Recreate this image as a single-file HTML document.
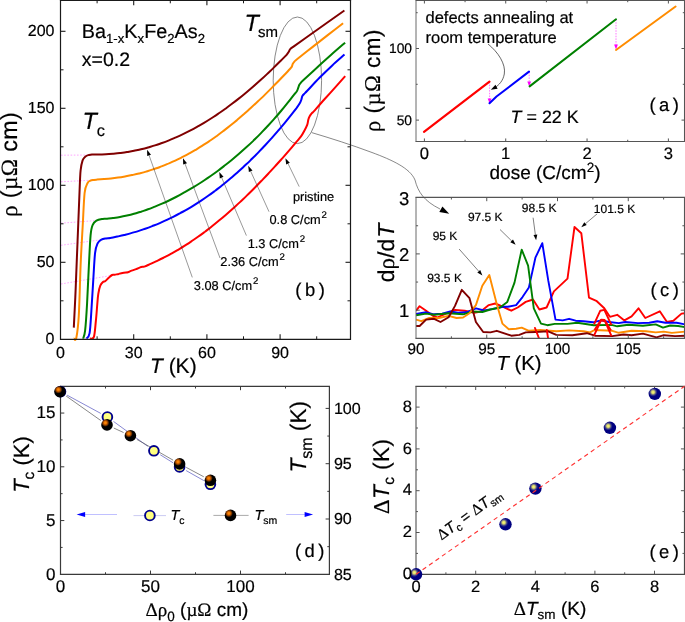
<!DOCTYPE html>
<html lang="en">
<head>
<meta charset="utf-8">
<title>Figure</title>
<style>
html,body{margin:0;padding:0;background:#fff;}
body{width:685px;height:622px;overflow:hidden;}
svg{display:block;font-family:'Liberation Sans', sans-serif;}
svg text{font-family:"Liberation Sans",sans-serif;stroke:#000;stroke-width:0.2px;text-rendering:geometricPrecision;}
.gk{font-family:"Liberation Serif",serif;}
</style>
</head>
<body>
<svg width="685" height="622" viewBox="0 0 685 622">
<rect x="0" y="0" width="685" height="622" fill="#ffffff"/>
<g id="panel-b">
<line x1="61.00" y1="155.20" x2="92.00" y2="155.00" stroke="#ff80ff" stroke-width="0.7" stroke-dasharray="1.6 1.6"/>
<line x1="61.00" y1="181.80" x2="95.00" y2="180.00" stroke="#ff80ff" stroke-width="0.7" stroke-dasharray="1.6 1.6"/>
<line x1="61.00" y1="223.20" x2="98.00" y2="220.40" stroke="#ff80ff" stroke-width="0.7" stroke-dasharray="1.6 1.6"/>
<line x1="61.00" y1="245.30" x2="102.00" y2="239.60" stroke="#ff80ff" stroke-width="0.7" stroke-dasharray="1.6 1.6"/>
<line x1="61.00" y1="284.00" x2="113.00" y2="275.20" stroke="#ff80ff" stroke-width="0.7" stroke-dasharray="1.6 1.6"/>
<ellipse cx="297.4" cy="80.3" rx="24.2" ry="63.3" fill="none" stroke="#555" stroke-width="0.7"/>
<path d="M311.7,132.6 C330,138 352,145 372,152.5 C392,160 410,168 415,180 C418,192 424,201 440,209" fill="none" stroke="#555" stroke-width="0.7"/>
<polygon points="449.2,213.8 439.3,212.1 442.4,206.5" fill="#000"/>
<path d="M90.1,338.6C90.7,338.3 92.9,339.9 93.9,336.9C94.9,333.9 95.3,326.1 95.9,320.6C96.5,315.1 96.9,308.5 97.3,304.0C97.7,299.5 97.8,296.9 98.3,293.8C98.8,290.8 99.5,287.6 100.3,285.7C101.1,283.8 102.1,282.9 102.9,282.1C103.8,281.3 104.5,281.7 105.4,281.0C106.3,280.3 107.4,279.0 108.5,278.0C109.6,277.0 111.1,275.5 112.1,275.0C113.1,274.5 113.5,275.0 114.6,274.8C115.7,274.6 117.2,274.2 118.7,273.9C120.2,273.5 122.3,273.0 123.8,272.7C125.3,272.4 126.7,272.5 127.9,272.2C129.1,271.9 129.6,271.4 131.0,270.9C132.4,270.4 134.4,269.8 136.1,269.1C137.8,268.5 139.8,267.4 141.2,267.0C142.6,266.6 142.9,267.0 144.3,266.6C145.7,266.2 147.5,265.3 149.4,264.4C151.3,263.5 153.7,262.5 156.0,261.4C158.3,260.3 160.7,259.2 163.0,258.0C165.3,256.8 167.7,255.7 170.0,254.4C172.3,253.1 174.7,251.8 177.0,250.4C179.3,249.0 181.7,247.7 184.0,246.2C186.3,244.7 188.7,243.2 191.0,241.6C193.3,240.0 195.7,238.5 198.0,236.8C200.3,235.2 202.7,233.4 205.0,231.7C207.3,229.9 209.7,228.2 212.0,226.3C214.3,224.5 216.7,222.5 219.0,220.6C221.3,218.7 223.7,216.7 226.0,214.7C228.3,212.7 230.7,210.6 233.0,208.5C235.3,206.4 237.7,204.3 240.0,202.1C242.3,199.9 244.7,197.7 247.0,195.4C249.3,193.1 251.7,190.8 254.0,188.5C256.3,186.2 258.7,183.7 261.0,181.3C263.3,178.9 265.7,176.5 268.0,174.0C270.3,171.5 272.7,169.0 275.0,166.4C277.3,163.8 279.7,161.2 282.0,158.6C284.3,156.0 286.7,153.3 289.0,150.6C291.3,147.9 294.0,144.8 296.0,142.4C298.0,140.0 299.6,138.3 301.0,136.4C302.4,134.5 303.2,132.9 304.2,131.0C305.2,129.1 306.5,126.7 307.2,124.8C307.9,122.9 307.9,121.2 308.3,119.7C308.7,118.2 309.2,117.2 309.8,116.1C310.4,115.0 311.1,114.1 311.9,113.2C312.7,112.3 312.4,113.0 314.5,110.6C316.6,108.2 321.3,102.8 324.7,99.0C328.1,95.2 331.6,91.4 335.0,87.6C338.4,83.8 343.5,78.1 345.2,76.2" fill="none" stroke="#ff0000" stroke-width="2.0" stroke-linejoin="round" stroke-linecap="butt"/>
<path d="M86.4,338.6C86.9,337.7 88.8,337.8 89.6,333.1C90.4,328.4 90.8,319.7 91.4,310.5C92.0,301.3 92.8,287.5 93.4,277.9C94.0,268.3 94.4,258.6 95.1,252.8C95.8,247.0 96.7,245.4 97.7,243.2C98.8,241.0 100.0,240.5 101.4,239.7C102.8,238.9 104.5,238.7 106.0,238.4C107.5,238.1 108.3,238.3 110.2,238.0C112.1,237.7 114.9,237.1 117.2,236.6C119.5,236.1 121.9,235.6 124.2,235.0C126.5,234.4 128.9,233.8 131.2,233.1C133.5,232.4 135.9,231.8 138.2,231.1C140.5,230.4 142.9,229.5 145.2,228.7C147.5,227.9 149.9,227.0 152.2,226.1C154.5,225.2 156.9,224.3 159.2,223.3C161.5,222.3 163.9,221.3 166.2,220.2C168.5,219.1 170.9,218.0 173.2,216.8C175.5,215.6 177.9,214.4 180.2,213.2C182.5,211.9 184.9,210.7 187.2,209.3C189.5,208.0 191.9,206.6 194.2,205.1C196.5,203.6 198.9,202.1 201.2,200.6C203.5,199.1 205.9,197.5 208.2,195.8C210.5,194.2 212.9,192.4 215.2,190.7C217.5,188.9 219.9,187.2 222.2,185.3C224.5,183.5 226.9,181.6 229.2,179.6C231.5,177.6 233.9,175.7 236.2,173.6C238.5,171.5 240.9,169.4 243.2,167.2C245.5,165.0 247.9,162.9 250.2,160.6C252.5,158.3 254.9,156.0 257.2,153.6C259.5,151.2 261.9,148.8 264.2,146.3C266.5,143.8 268.9,141.2 271.2,138.6C273.5,136.0 275.9,133.3 278.2,130.6C280.5,127.9 282.9,125.1 285.2,122.3C287.5,119.5 290.3,116.0 292.2,113.6C294.1,111.2 295.2,109.8 296.5,108.1C297.8,106.3 299.1,104.5 299.9,103.1C300.7,101.7 301.0,100.7 301.4,99.5C301.8,98.3 301.9,96.8 302.5,95.8C303.1,94.8 303.9,94.2 304.7,93.4C305.4,92.6 304.5,93.6 307.0,91.0C309.5,88.4 315.3,82.0 319.5,77.8C323.7,73.6 327.8,69.6 332.0,65.7C336.2,61.8 342.4,56.5 344.5,54.6" fill="none" stroke="#0000ff" stroke-width="2.0" stroke-linejoin="round" stroke-linecap="butt"/>
<path d="M83.1,338.6C83.4,337.3 84.4,336.5 85.1,330.6C85.8,324.7 86.5,313.9 87.1,303.0C87.7,292.1 88.3,276.6 88.9,265.3C89.5,254.0 90.0,241.9 90.6,235.2C91.2,228.5 91.6,227.5 92.6,225.1C93.6,222.7 94.7,221.6 96.4,220.6C98.1,219.6 101.1,219.2 102.7,218.9C104.3,218.6 104.3,218.8 106.0,218.7C107.7,218.5 110.7,218.3 113.0,218.0C115.3,217.7 117.7,217.4 120.0,217.0C122.3,216.6 124.7,216.1 127.0,215.6C129.3,215.1 131.7,214.5 134.0,213.8C136.3,213.2 138.7,212.4 141.0,211.7C143.3,210.9 145.7,210.2 148.0,209.3C150.3,208.5 152.7,207.5 155.0,206.6C157.3,205.7 159.7,204.7 162.0,203.7C164.3,202.7 166.7,201.6 169.0,200.5C171.3,199.4 173.7,198.2 176.0,197.0C178.3,195.8 180.7,194.5 183.0,193.2C185.3,191.9 187.7,190.6 190.0,189.2C192.3,187.8 194.7,186.4 197.0,185.0C199.3,183.6 201.7,182.1 204.0,180.5C206.3,178.9 208.7,177.3 211.0,175.7C213.3,174.1 215.7,172.4 218.0,170.7C220.3,169.0 222.7,167.1 225.0,165.3C227.3,163.5 229.7,161.6 232.0,159.7C234.3,157.8 236.7,155.8 239.0,153.8C241.3,151.8 243.7,149.7 246.0,147.6C248.3,145.5 250.7,143.3 253.0,141.1C255.3,138.8 257.7,136.5 260.0,134.1C262.3,131.7 264.7,129.3 267.0,126.8C269.3,124.3 271.7,121.7 274.0,119.1C276.3,116.5 278.7,113.8 281.0,111.0C283.3,108.2 285.9,105.0 288.0,102.4C290.1,99.8 292.1,97.1 293.5,95.3C294.9,93.5 295.9,92.7 296.7,91.5C297.5,90.3 297.8,89.0 298.2,87.9C298.6,86.8 298.8,85.6 299.3,84.7C299.8,83.8 300.4,83.2 301.1,82.4C301.8,81.6 300.8,82.4 303.5,79.9C306.2,77.4 312.8,71.4 317.4,67.2C322.0,63.0 326.6,58.9 331.2,54.8C335.8,50.7 342.8,44.7 345.1,42.7" fill="none" stroke="#008000" stroke-width="2.0" stroke-linejoin="round" stroke-linecap="butt"/>
<path d="M73.8,338.6C74.2,338.5 75.5,341.9 76.3,338.0C77.1,334.1 78.1,327.6 78.8,315.5C79.5,303.4 80.0,279.9 80.6,265.3C81.2,250.7 81.9,239.8 82.6,227.7C83.3,215.6 83.8,200.4 84.6,193.0C85.4,185.6 86.6,185.1 87.6,183.0C88.6,180.9 89.5,181.1 90.5,180.6C91.5,180.1 92.8,180.1 93.9,179.9C95.0,179.7 95.3,179.7 97.0,179.6C98.7,179.5 101.7,179.3 104.0,179.1C106.3,178.9 108.7,178.7 111.0,178.4C113.3,178.1 115.7,177.8 118.0,177.5C120.3,177.2 122.7,176.8 125.0,176.4C127.3,176.0 129.7,175.6 132.0,175.1C134.3,174.6 136.7,174.1 139.0,173.5C141.3,172.9 143.7,172.3 146.0,171.6C148.3,170.9 150.7,170.2 153.0,169.4C155.3,168.6 157.7,167.9 160.0,167.0C162.3,166.1 164.7,165.2 167.0,164.2C169.3,163.2 171.7,162.3 174.0,161.2C176.3,160.1 178.7,159.0 181.0,157.8C183.3,156.6 185.7,155.5 188.0,154.2C190.3,152.9 192.7,151.6 195.0,150.2C197.3,148.8 199.7,147.4 202.0,145.9C204.3,144.4 206.7,143.0 209.0,141.4C211.3,139.8 213.7,138.2 216.0,136.5C218.3,134.8 220.7,133.1 223.0,131.3C225.3,129.5 227.7,127.7 230.0,125.8C232.3,123.9 234.7,122.0 237.0,120.1C239.3,118.1 241.7,116.1 244.0,114.1C246.3,112.0 248.7,109.9 251.0,107.8C253.3,105.7 255.7,103.5 258.0,101.3C260.3,99.1 262.7,96.9 265.0,94.6C267.3,92.3 269.7,89.9 272.0,87.6C274.3,85.2 276.7,82.9 279.0,80.5C281.3,78.1 284.4,74.9 286.0,73.2C287.6,71.5 287.6,71.5 288.5,70.5C289.4,69.5 291.0,68.0 291.7,66.9C292.4,65.8 292.2,64.9 292.7,64.0C293.2,63.1 293.9,62.2 294.6,61.4C295.3,60.6 294.0,61.6 297.0,59.2C300.0,56.8 307.3,51.1 312.4,47.1C317.5,43.1 322.6,39.1 327.7,35.1C332.8,31.1 340.5,25.2 343.1,23.2" fill="none" stroke="#ff8c00" stroke-width="2.0" stroke-linejoin="round" stroke-linecap="butt"/>
<path d="M73.8,327.6C74.1,321.4 75.0,305.0 75.6,290.4C76.2,275.8 76.9,256.9 77.6,240.2C78.3,223.5 79.1,201.6 79.6,190.0C80.1,178.4 80.1,175.4 80.6,170.5C81.1,165.6 81.8,162.8 82.6,160.4C83.4,158.1 84.5,157.3 85.5,156.4C86.5,155.5 87.8,155.3 88.9,155.0C90.0,154.7 90.3,154.6 92.0,154.5C93.7,154.4 96.7,154.5 99.0,154.5C101.3,154.5 103.7,154.4 106.0,154.3C108.3,154.2 110.7,154.0 113.0,153.8C115.3,153.6 117.7,153.4 120.0,153.1C122.3,152.8 124.7,152.5 127.0,152.1C129.3,151.7 131.7,151.3 134.0,150.8C136.3,150.3 138.7,149.9 141.0,149.3C143.3,148.8 145.7,148.2 148.0,147.5C150.3,146.8 152.7,146.2 155.0,145.4C157.3,144.7 159.7,143.8 162.0,143.0C164.3,142.2 166.7,141.3 169.0,140.4C171.3,139.5 173.7,138.4 176.0,137.4C178.3,136.4 180.7,135.3 183.0,134.2C185.3,133.1 187.7,131.9 190.0,130.7C192.3,129.5 194.7,128.2 197.0,126.9C199.3,125.6 201.7,124.3 204.0,122.9C206.3,121.5 208.7,120.0 211.0,118.5C213.3,117.0 215.7,115.5 218.0,113.9C220.3,112.3 222.7,110.7 225.0,109.0C227.3,107.3 229.7,105.6 232.0,103.8C234.3,102.0 236.7,100.2 239.0,98.4C241.3,96.6 243.7,94.6 246.0,92.7C248.3,90.8 250.7,88.8 253.0,86.8C255.3,84.8 257.7,82.7 260.0,80.6C262.3,78.5 264.7,76.3 267.0,74.1C269.3,71.9 271.7,69.7 274.0,67.4C276.3,65.1 278.9,62.6 281.0,60.5C283.1,58.4 285.3,56.3 286.6,54.8C287.9,53.3 288.2,52.7 288.8,51.7C289.4,50.8 289.4,50.0 290.2,49.1C291.0,48.2 290.1,49.0 293.5,46.6C296.9,44.2 304.9,38.5 310.5,34.5C316.1,30.5 321.8,26.5 327.4,22.5C333.0,18.5 341.6,12.5 344.4,10.5" fill="none" stroke="#800000" stroke-width="2.0" stroke-linejoin="round" stroke-linecap="butt"/>
<line x1="299.20" y1="186.60" x2="288.02" y2="163.60" stroke="#333" stroke-width="0.5" />
<polygon points="285.4,158.2 289.8,162.7 286.2,164.5" fill="#000"/>
<line x1="269.00" y1="211.70" x2="250.68" y2="171.27" stroke="#333" stroke-width="0.5" />
<polygon points="248.2,165.8 252.5,170.4 248.9,172.1" fill="#000"/>
<line x1="246.40" y1="235.60" x2="221.66" y2="177.62" stroke="#333" stroke-width="0.5" />
<polygon points="219.3,172.1 223.5,176.8 219.8,178.4" fill="#000"/>
<line x1="220.00" y1="258.00" x2="185.09" y2="163.93" stroke="#333" stroke-width="0.5" />
<polygon points="183.0,158.3 187.0,163.2 183.2,164.6" fill="#000"/>
<line x1="192.30" y1="277.40" x2="149.10" y2="155.36" stroke="#333" stroke-width="0.5" />
<polygon points="147.1,149.7 151.0,154.7 147.2,156.0" fill="#000"/>
<line x1="59.90" y1="0.30" x2="351.10" y2="0.30" stroke="#1a1a1a" stroke-width="1.2" />
<line x1="350.50" y1="0.30" x2="350.50" y2="339.30" stroke="#1a1a1a" stroke-width="1.2" />
<line x1="59.90" y1="339.30" x2="351.10" y2="339.30" stroke="#1a1a1a" stroke-width="1.2" />
<line x1="60.50" y1="0.30" x2="60.50" y2="339.30" stroke="#1a1a1a" stroke-width="1.2" />
<line x1="133.70" y1="339.30" x2="133.70" y2="334.30" stroke="#1a1a1a" stroke-width="1.1" />
<line x1="133.70" y1="0.30" x2="133.70" y2="5.30" stroke="#1a1a1a" stroke-width="1.1" />
<line x1="206.90" y1="339.30" x2="206.90" y2="334.30" stroke="#1a1a1a" stroke-width="1.1" />
<line x1="206.90" y1="0.30" x2="206.90" y2="5.30" stroke="#1a1a1a" stroke-width="1.1" />
<line x1="280.10" y1="339.30" x2="280.10" y2="334.30" stroke="#1a1a1a" stroke-width="1.1" />
<line x1="280.10" y1="0.30" x2="280.10" y2="5.30" stroke="#1a1a1a" stroke-width="1.1" />
<line x1="97.10" y1="339.30" x2="97.10" y2="336.30" stroke="#1a1a1a" stroke-width="1.0" />
<line x1="97.10" y1="0.30" x2="97.10" y2="3.30" stroke="#1a1a1a" stroke-width="1.0" />
<line x1="170.30" y1="339.30" x2="170.30" y2="336.30" stroke="#1a1a1a" stroke-width="1.0" />
<line x1="170.30" y1="0.30" x2="170.30" y2="3.30" stroke="#1a1a1a" stroke-width="1.0" />
<line x1="243.50" y1="339.30" x2="243.50" y2="336.30" stroke="#1a1a1a" stroke-width="1.0" />
<line x1="243.50" y1="0.30" x2="243.50" y2="3.30" stroke="#1a1a1a" stroke-width="1.0" />
<line x1="316.70" y1="339.30" x2="316.70" y2="336.30" stroke="#1a1a1a" stroke-width="1.0" />
<line x1="316.70" y1="0.30" x2="316.70" y2="3.30" stroke="#1a1a1a" stroke-width="1.0" />
<line x1="60.50" y1="262.30" x2="65.50" y2="262.30" stroke="#1a1a1a" stroke-width="1.1" />
<line x1="350.50" y1="262.30" x2="345.50" y2="262.30" stroke="#1a1a1a" stroke-width="1.1" />
<line x1="60.50" y1="185.30" x2="65.50" y2="185.30" stroke="#1a1a1a" stroke-width="1.1" />
<line x1="350.50" y1="185.30" x2="345.50" y2="185.30" stroke="#1a1a1a" stroke-width="1.1" />
<line x1="60.50" y1="108.30" x2="65.50" y2="108.30" stroke="#1a1a1a" stroke-width="1.1" />
<line x1="350.50" y1="108.30" x2="345.50" y2="108.30" stroke="#1a1a1a" stroke-width="1.1" />
<line x1="60.50" y1="31.30" x2="65.50" y2="31.30" stroke="#1a1a1a" stroke-width="1.1" />
<line x1="350.50" y1="31.30" x2="345.50" y2="31.30" stroke="#1a1a1a" stroke-width="1.1" />
<line x1="60.50" y1="300.80" x2="63.50" y2="300.80" stroke="#1a1a1a" stroke-width="1.0" />
<line x1="350.50" y1="300.80" x2="347.50" y2="300.80" stroke="#1a1a1a" stroke-width="1.0" />
<line x1="60.50" y1="223.80" x2="63.50" y2="223.80" stroke="#1a1a1a" stroke-width="1.0" />
<line x1="350.50" y1="223.80" x2="347.50" y2="223.80" stroke="#1a1a1a" stroke-width="1.0" />
<line x1="60.50" y1="146.80" x2="63.50" y2="146.80" stroke="#1a1a1a" stroke-width="1.0" />
<line x1="350.50" y1="146.80" x2="347.50" y2="146.80" stroke="#1a1a1a" stroke-width="1.0" />
<line x1="60.50" y1="69.80" x2="63.50" y2="69.80" stroke="#1a1a1a" stroke-width="1.0" />
<line x1="350.50" y1="69.80" x2="347.50" y2="69.80" stroke="#1a1a1a" stroke-width="1.0" />
<text x="54.50" y="344.20" font-size="16" text-anchor="end" fill="#000" >0</text>
<text x="54.50" y="267.20" font-size="16" text-anchor="end" fill="#000" >50</text>
<text x="54.50" y="190.20" font-size="16" text-anchor="end" fill="#000" >100</text>
<text x="54.50" y="113.20" font-size="16" text-anchor="end" fill="#000" >150</text>
<text x="54.50" y="36.20" font-size="16" text-anchor="end" fill="#000" >200</text>
<text x="60.50" y="358.20" font-size="16" text-anchor="middle" fill="#000" >0</text>
<text x="133.70" y="358.20" font-size="16" text-anchor="middle" fill="#000" >30</text>
<text x="206.90" y="358.20" font-size="16" text-anchor="middle" fill="#000" >60</text>
<text x="280.10" y="358.20" font-size="16" text-anchor="middle" fill="#000" >90</text>
<text transform="translate(17.0,164.5) rotate(-90)" font-size="23.3" letter-spacing="0.35" text-anchor="middle"><tspan class="gk">ρ</tspan> (<tspan class="gk">µΩ</tspan> cm)</text>
<text x="173.3" y="372.8" font-size="21" text-anchor="middle"><tspan font-style="italic">T</tspan> (K)</text>
<text x="81.8" y="37.6" font-size="19.8">Ba<tspan font-size="13.2" dy="5.2">1-x</tspan><tspan dy="-5.2">K</tspan><tspan font-size="13.2" dy="5.2">x</tspan><tspan dy="-5.2">Fe</tspan><tspan font-size="13.2" dy="5.2">2</tspan><tspan dy="-5.2">As</tspan><tspan font-size="13.2" dy="5.2">2</tspan></text>
<text x="81.80" y="66.00" font-size="19.5" text-anchor="start" fill="#000" >x=0.2</text>
<text x="82.4" y="129.2" font-size="23.5"><tspan font-style="italic">T</tspan><tspan font-size="16.3" dy="6.6">c</tspan></text>
<text x="244.4" y="31.3" font-size="23.5"><tspan font-style="italic">T</tspan><tspan font-size="15" dy="5.8" dx="-0.8">sm</tspan></text>
<text x="292.90" y="201.20" font-size="12.8" text-anchor="start" fill="#000" >pristine</text>
<text x="269.5" y="223.8" font-size="12.8">0.8 C/cm<tspan font-size="9.6" dy="-5.5" dx="0.9">2</tspan></text>
<text x="247.7" y="247.70000000000002" font-size="12.8">1.3 C/cm<tspan font-size="9.6" dy="-5.5" dx="0.9">2</tspan></text>
<text x="220.3" y="265.90000000000003" font-size="12.8">2.36 C/cm<tspan font-size="9.6" dy="-5.5" dx="0.9">2</tspan></text>
<text x="193.8" y="289.5" font-size="12.8">3.08 C/cm<tspan font-size="9.6" dy="-5.5" dx="0.9">2</tspan></text>
<text x="295.3" y="295.5" font-size="18.4" letter-spacing="3.5">(b)</text>
</g>
<g id="panel-a">
<line x1="489.60" y1="82.00" x2="489.60" y2="100.50" stroke="#ff55ff" stroke-width="0.8" stroke-dasharray="1.5 1.2"/>
<polygon points="489.6,103.5 487.7,98.5 491.5,98.5" fill="#ff00ff"/>
<line x1="529.20" y1="72.00" x2="529.20" y2="83.50" stroke="#ff55ff" stroke-width="0.8" stroke-dasharray="1.5 1.2"/>
<polygon points="529.2,86.5 527.3,81.5 531.1,81.5" fill="#ff00ff"/>
<line x1="616.00" y1="19.50" x2="616.00" y2="46.50" stroke="#ff55ff" stroke-width="0.8" stroke-dasharray="1.5 1.2"/>
<polygon points="616.0,49.5 614.1,44.5 617.9,44.5" fill="#ff00ff"/>
<polyline points="424.0,131.9 489.5,81.7" fill="none" stroke="#ff0000" stroke-width="2.2" stroke-linecap="round"/>
<polyline points="489.5,103.3 496.5,96.5 529.0,71.6" fill="none" stroke="#0000ff" stroke-width="2.0" stroke-linecap="round" stroke-linejoin="round"/>
<polyline points="529.6,86.4 616.0,19.3" fill="none" stroke="#008000" stroke-width="2.0" stroke-linecap="round"/>
<polyline points="616.0,50.0 675.6,6.5" fill="none" stroke="#ff8c00" stroke-width="2.0" stroke-linecap="round"/>
<path d="M488.0,44.0 C498,52 506,64 504.3,74 C503,81 499,85 495,87.5" fill="none" stroke="#000" stroke-width="0.6"/>
<polygon points="490.8,89.8 495.5,84.8 497.6,88.7" fill="#000"/>
<line x1="415.48" y1="0.50" x2="685.02" y2="0.50" stroke="#555555" stroke-width="1.05" />
<line x1="684.50" y1="0.50" x2="684.50" y2="141.45" stroke="#555555" stroke-width="1.05" />
<line x1="415.48" y1="141.45" x2="685.02" y2="141.45" stroke="#555555" stroke-width="1.05" />
<line x1="416.00" y1="0.50" x2="416.00" y2="141.45" stroke="#5a5a5a" stroke-width="0.9" />
<line x1="424.40" y1="141.45" x2="424.40" y2="138.45" stroke="#555555" stroke-width="1.0" />
<line x1="424.40" y1="0.50" x2="424.40" y2="3.50" stroke="#555555" stroke-width="1.0" />
<line x1="505.73" y1="141.45" x2="505.73" y2="138.45" stroke="#555555" stroke-width="1.0" />
<line x1="505.73" y1="0.50" x2="505.73" y2="3.50" stroke="#555555" stroke-width="1.0" />
<line x1="587.06" y1="141.45" x2="587.06" y2="138.45" stroke="#555555" stroke-width="1.0" />
<line x1="587.06" y1="0.50" x2="587.06" y2="3.50" stroke="#555555" stroke-width="1.0" />
<line x1="668.39" y1="141.45" x2="668.39" y2="138.45" stroke="#555555" stroke-width="1.0" />
<line x1="668.39" y1="0.50" x2="668.39" y2="3.50" stroke="#555555" stroke-width="1.0" />
<line x1="465.06" y1="141.45" x2="465.06" y2="139.75" stroke="#555555" stroke-width="1.0" />
<line x1="465.06" y1="0.50" x2="465.06" y2="2.20" stroke="#555555" stroke-width="1.0" />
<line x1="546.39" y1="141.45" x2="546.39" y2="139.75" stroke="#555555" stroke-width="1.0" />
<line x1="546.39" y1="0.50" x2="546.39" y2="2.20" stroke="#555555" stroke-width="1.0" />
<line x1="627.72" y1="141.45" x2="627.72" y2="139.75" stroke="#555555" stroke-width="1.0" />
<line x1="627.72" y1="0.50" x2="627.72" y2="2.20" stroke="#555555" stroke-width="1.0" />
<line x1="416.00" y1="120.10" x2="419.00" y2="120.10" stroke="#555555" stroke-width="1.0" />
<line x1="684.50" y1="120.10" x2="681.50" y2="120.10" stroke="#555555" stroke-width="1.0" />
<line x1="416.00" y1="48.50" x2="419.00" y2="48.50" stroke="#555555" stroke-width="1.0" />
<line x1="684.50" y1="48.50" x2="681.50" y2="48.50" stroke="#555555" stroke-width="1.0" />
<line x1="416.00" y1="84.30" x2="417.70" y2="84.30" stroke="#555555" stroke-width="1.0" />
<line x1="684.50" y1="84.30" x2="682.80" y2="84.30" stroke="#555555" stroke-width="1.0" />
<line x1="416.00" y1="12.70" x2="417.70" y2="12.70" stroke="#555555" stroke-width="1.0" />
<line x1="684.50" y1="12.70" x2="682.80" y2="12.70" stroke="#555555" stroke-width="1.0" />
<text x="412.00" y="125.00" font-size="13.8" text-anchor="end" fill="#000" >50</text>
<text x="412.00" y="53.40" font-size="13.8" text-anchor="end" fill="#000" >100</text>
<text x="424.40" y="158.50" font-size="16.6" text-anchor="middle" fill="#000" >0</text>
<text x="505.73" y="158.50" font-size="16.6" text-anchor="middle" fill="#000" >1</text>
<text x="587.06" y="158.50" font-size="16.6" text-anchor="middle" fill="#000" >2</text>
<text x="668.39" y="158.50" font-size="16.6" text-anchor="middle" fill="#000" >3</text>
<text transform="translate(380.0,80.5) rotate(-90)" font-size="22.5" letter-spacing="0.5" text-anchor="middle"><tspan class="gk">ρ</tspan> (<tspan class="gk">µΩ</tspan> cm)</text>
<text x="545" y="178.6" font-size="19" text-anchor="middle">dose (C/cm<tspan font-size="13.5" dy="-6.3">2</tspan><tspan dy="6.3">)</tspan></text>
<text x="425.50" y="23.10" font-size="16.5" text-anchor="start" fill="#000" >defects annealing at</text>
<text x="425.50" y="43.20" font-size="16.5" text-anchor="start" fill="#000" >room temperature</text>
<text x="510.6" y="123" font-size="17.9"><tspan font-style="italic">T</tspan> = 22 K</text>
<text x="649.4" y="111.4" font-size="18.4" letter-spacing="3.5">(a)</text>
</g>
<g id="panel-c">
<clipPath id="clipc"><rect x="416.0" y="197.4" width="268.5" height="140.99999999999997"/></clipPath>
<g clip-path="url(#clipc)">
<polyline points="416.1,310.7 419.6,306.2 426.1,310.7 432.5,315.6 437.3,317.5 447.0,313.2 455.0,309.9 464.7,310.7 474.3,312.7 480.7,311.5 488.8,305.1 495.2,303.5 501.6,306.2 511.3,310.7 517.7,307.5 525.7,301.9 533.0,299.5 539.4,309.5 546.6,307.5 553.9,291.4 567.5,278.6 574.5,227.0 581.3,233.2 589.0,297.6 596.3,300.8 604.3,308.3 609.9,316.8 617.2,314.8 624.4,320.4 631.6,316.4 638.5,308.3 645.3,318.0 659.8,311.3 667.0,322.0 673.4,320.7 681.5,313.6 685.0,313.2" fill="none" stroke="#ff0000" stroke-width="1.9" stroke-linejoin="round"/>
<polyline points="416.1,314.0 426.1,312.3 434.1,314.3 442.2,313.6 450.2,311.5 458.2,312.7 466.3,312.3 475.9,308.3 484.0,310.4 492.0,309.1 503.2,306.7 508.0,306.7 516.1,305.1 522.5,297.1 528.9,287.4 535.4,257.7 542.3,243.2 548.2,280.2 555.5,319.6 562.7,320.4 569.1,318.8 575.6,320.7 583.6,321.2 593.0,322.3 601.0,320.4 609.0,322.0 618.8,323.1 625.2,322.0 638.0,323.1 649.3,322.8 657.3,321.2 665.4,322.8 676.6,322.8 685.0,324.4" fill="none" stroke="#0000ff" stroke-width="1.9" stroke-linejoin="round"/>
<polyline points="416.1,315.2 426.1,313.6 434.1,314.8 448.6,313.2 463.1,314.3 472.7,311.5 482.3,312.0 490.4,309.5 500.0,307.5 507.3,301.9 514.5,282.6 521.7,249.6 528.1,265.7 533.8,308.3 541.0,323.6 547.4,325.2 554.7,323.9 567.5,323.9 577.2,322.8 593.8,325.2 611.5,324.9 617.2,326.3 628.4,324.7 642.9,325.7 655.7,324.4 663.0,327.6 670.2,325.5 678.2,326.0 685.0,327.1" fill="none" stroke="#008000" stroke-width="1.9" stroke-linejoin="round"/>
<polyline points="416.1,319.6 421.3,321.2 429.3,318.0 438.9,318.0 448.6,315.9 456.6,318.0 463.1,317.5 469.5,313.2 475.9,305.1 482.3,285.8 489.3,275.0 496.8,304.3 502.4,323.6 508.8,329.2 516.1,328.7 521.7,327.6 528.9,330.8 540.2,330.0 556.3,331.3 569.1,330.4 583.6,331.3 590.0,332.4 594.6,330.0 612.3,330.8 618.8,332.8 631.6,330.8 646.1,331.2 655.7,332.4 663.8,331.6 671.8,332.9 685.0,331.6" fill="none" stroke="#ff8c00" stroke-width="1.9" stroke-linejoin="round"/>
<polyline points="416.1,326.0 419.6,326.0 426.1,319.6 434.1,318.8 440.5,322.0 448.6,317.2 455.0,305.9 461.8,289.8 469.5,298.2 475.9,322.0 483.2,332.0 490.4,332.4 496.8,330.8 511.3,335.7 519.3,334.9 525.7,332.4 535.4,332.0 548.2,331.3 556.3,334.9 572.3,335.2 586.8,333.2 594.9,335.7 612.3,336.1 623.6,334.5 631.6,335.2 642.9,333.6 656.5,337.3 663.8,335.2 675.0,336.1 685.0,335.7" fill="none" stroke="#800000" stroke-width="1.9" stroke-linejoin="round"/>
<polyline points="594.0,324.4 600.3,310.7 604.3,309.9 611.5,325.2" fill="none" stroke="#ff0000" stroke-width="1.9" stroke-linejoin="round"/>
<polyline points="594.0,335.7 601.0,320.4 605.0,321.2 611.5,336.1" fill="none" stroke="#ff0000" stroke-width="1.9" stroke-linejoin="round"/>
<polyline points="594.5,330.0 601.3,319.6 604.6,320.0 611.0,330.5" fill="none" stroke="#ff0000" stroke-width="1.9" stroke-linejoin="round"/>
<polyline points="535.0,328.0 540.0,341.0" fill="none" stroke="#ff0000" stroke-width="1.9" stroke-linejoin="round" stroke-linecap="round"/>
<polyline points="546.8,330.0 548.5,341.0" fill="none" stroke="#ff0000" stroke-width="1.9" stroke-linejoin="round" stroke-linecap="round"/>
</g>
<line x1="459.10" y1="249.00" x2="478.76" y2="271.28" stroke="#000" stroke-width="0.5" />
<polygon points="482.4,275.4 477.3,272.5 480.2,270.0" fill="#000"/>
<line x1="500.00" y1="229.50" x2="511.67" y2="240.95" stroke="#000" stroke-width="0.5" />
<polygon points="515.6,244.8 510.3,242.3 513.0,239.6" fill="#000"/>
<line x1="533.10" y1="217.70" x2="535.38" y2="234.85" stroke="#000" stroke-width="0.5" />
<polygon points="536.1,240.3 533.5,235.1 537.3,234.6" fill="#000"/>
<line x1="597.10" y1="213.90" x2="585.51" y2="223.66" stroke="#000" stroke-width="0.5" />
<polygon points="581.3,227.2 584.3,222.2 586.7,225.1" fill="#000"/>
<line x1="415.45" y1="197.40" x2="685.05" y2="197.40" stroke="#555555" stroke-width="1.1" />
<line x1="684.50" y1="197.40" x2="684.50" y2="338.40" stroke="#555555" stroke-width="1.1" />
<line x1="415.45" y1="338.40" x2="685.05" y2="338.40" stroke="#555555" stroke-width="1.1" />
<line x1="416.00" y1="197.40" x2="416.00" y2="338.40" stroke="#5a5a5a" stroke-width="0.9" />
<line x1="486.75" y1="338.40" x2="486.75" y2="334.60" stroke="#555555" stroke-width="1.0" />
<line x1="486.75" y1="197.40" x2="486.75" y2="201.20" stroke="#555555" stroke-width="1.0" />
<line x1="557.50" y1="338.40" x2="557.50" y2="334.60" stroke="#555555" stroke-width="1.0" />
<line x1="557.50" y1="197.40" x2="557.50" y2="201.20" stroke="#555555" stroke-width="1.0" />
<line x1="628.25" y1="338.40" x2="628.25" y2="334.60" stroke="#555555" stroke-width="1.0" />
<line x1="628.25" y1="197.40" x2="628.25" y2="201.20" stroke="#555555" stroke-width="1.0" />
<line x1="451.38" y1="338.40" x2="451.38" y2="336.30" stroke="#555555" stroke-width="1.0" />
<line x1="451.38" y1="197.40" x2="451.38" y2="199.50" stroke="#555555" stroke-width="1.0" />
<line x1="522.12" y1="338.40" x2="522.12" y2="336.30" stroke="#555555" stroke-width="1.0" />
<line x1="522.12" y1="197.40" x2="522.12" y2="199.50" stroke="#555555" stroke-width="1.0" />
<line x1="592.88" y1="338.40" x2="592.88" y2="336.30" stroke="#555555" stroke-width="1.0" />
<line x1="592.88" y1="197.40" x2="592.88" y2="199.50" stroke="#555555" stroke-width="1.0" />
<line x1="663.62" y1="338.40" x2="663.62" y2="336.30" stroke="#555555" stroke-width="1.0" />
<line x1="663.62" y1="197.40" x2="663.62" y2="199.50" stroke="#555555" stroke-width="1.0" />
<line x1="416.00" y1="310.20" x2="419.80" y2="310.20" stroke="#555555" stroke-width="1.0" />
<line x1="684.50" y1="310.20" x2="680.70" y2="310.20" stroke="#555555" stroke-width="1.0" />
<line x1="416.00" y1="253.90" x2="419.80" y2="253.90" stroke="#555555" stroke-width="1.0" />
<line x1="684.50" y1="253.90" x2="680.70" y2="253.90" stroke="#555555" stroke-width="1.0" />
<line x1="416.00" y1="282.05" x2="418.10" y2="282.05" stroke="#555555" stroke-width="1.0" />
<line x1="684.50" y1="282.05" x2="682.40" y2="282.05" stroke="#555555" stroke-width="1.0" />
<line x1="416.00" y1="225.75" x2="418.10" y2="225.75" stroke="#555555" stroke-width="1.0" />
<line x1="684.50" y1="225.75" x2="682.40" y2="225.75" stroke="#555555" stroke-width="1.0" />
<text x="409.30" y="317.40" font-size="18.5" text-anchor="end" fill="#000" >1</text>
<text x="409.30" y="261.10" font-size="18.5" text-anchor="end" fill="#000" >2</text>
<text x="409.30" y="204.80" font-size="18.5" text-anchor="end" fill="#000" >3</text>
<text x="416.00" y="353.50" font-size="15.3" text-anchor="middle" fill="#000" >90</text>
<text x="486.75" y="353.50" font-size="15.3" text-anchor="middle" fill="#000" >95</text>
<text x="557.50" y="353.50" font-size="15.3" text-anchor="middle" fill="#000" >100</text>
<text x="628.25" y="353.50" font-size="15.3" text-anchor="middle" fill="#000" >105</text>
<text transform="translate(393.5,253.0) rotate(-90)" font-size="23" text-anchor="middle">d<tspan class="gk">ρ</tspan>/d<tspan font-style="italic" dx="1">T</tspan></text>
<text x="519" y="370.4" font-size="20.3" text-anchor="middle"><tspan font-style="italic">T</tspan> (K)</text>
<text x="427.20" y="282.30" font-size="12" text-anchor="start" fill="#000" >93.5 K</text>
<text x="432.70" y="240.30" font-size="12" text-anchor="start" fill="#000" >95 K</text>
<text x="467.90" y="220.70" font-size="12" text-anchor="start" fill="#000" >97.5 K</text>
<text x="521.80" y="211.90" font-size="12" text-anchor="start" fill="#000" >98.5 K</text>
<text x="593.80" y="213.40" font-size="12" text-anchor="start" fill="#000" >101.5 K</text>
<text x="650.5" y="295.6" font-size="18.4" letter-spacing="3.5">(c)</text>
</g>
<defs>
<radialGradient id="gOr" cx="0.36" cy="0.32" r="0.34"><stop offset="0" stop-color="#ff8c0a"/><stop offset="0.3" stop-color="#f07800"/><stop offset="0.65" stop-color="#8a3c00"/><stop offset="1" stop-color="#000"/></radialGradient>
<radialGradient id="gBl" cx="0.36" cy="0.36" r="0.36"><stop offset="0" stop-color="#fbfb70"/><stop offset="0.3" stop-color="#e0dc70"/><stop offset="0.7" stop-color="#3c3c88"/><stop offset="1" stop-color="#000080"/></radialGradient>
</defs>
<g id="panel-d">
<line x1="59.90" y1="386.40" x2="330.00" y2="386.40" stroke="#3a3a3a" stroke-width="1.2" />
<line x1="329.40" y1="386.40" x2="329.40" y2="574.35" stroke="#3a3a3a" stroke-width="1.2" />
<line x1="59.90" y1="574.35" x2="330.00" y2="574.35" stroke="#3a3a3a" stroke-width="1.2" />
<line x1="60.50" y1="386.40" x2="60.50" y2="574.35" stroke="#3a3a3a" stroke-width="1.2" />
<line x1="150.50" y1="574.35" x2="150.50" y2="570.55" stroke="#3a3a3a" stroke-width="1.0" />
<line x1="150.50" y1="386.40" x2="150.50" y2="390.20" stroke="#3a3a3a" stroke-width="1.0" />
<line x1="240.50" y1="574.35" x2="240.50" y2="570.55" stroke="#3a3a3a" stroke-width="1.0" />
<line x1="240.50" y1="386.40" x2="240.50" y2="390.20" stroke="#3a3a3a" stroke-width="1.0" />
<line x1="105.50" y1="574.35" x2="105.50" y2="572.25" stroke="#3a3a3a" stroke-width="1.0" />
<line x1="105.50" y1="386.40" x2="105.50" y2="388.50" stroke="#3a3a3a" stroke-width="1.0" />
<line x1="195.50" y1="574.35" x2="195.50" y2="572.25" stroke="#3a3a3a" stroke-width="1.0" />
<line x1="195.50" y1="386.40" x2="195.50" y2="388.50" stroke="#3a3a3a" stroke-width="1.0" />
<line x1="285.50" y1="574.35" x2="285.50" y2="572.25" stroke="#3a3a3a" stroke-width="1.0" />
<line x1="285.50" y1="386.40" x2="285.50" y2="388.50" stroke="#3a3a3a" stroke-width="1.0" />
<line x1="60.50" y1="520.55" x2="64.30" y2="520.55" stroke="#3a3a3a" stroke-width="1.0" />
<line x1="60.50" y1="466.80" x2="64.30" y2="466.80" stroke="#3a3a3a" stroke-width="1.0" />
<line x1="60.50" y1="413.05" x2="64.30" y2="413.05" stroke="#3a3a3a" stroke-width="1.0" />
<line x1="60.50" y1="547.42" x2="62.60" y2="547.42" stroke="#3a3a3a" stroke-width="1.0" />
<line x1="60.50" y1="493.67" x2="62.60" y2="493.67" stroke="#3a3a3a" stroke-width="1.0" />
<line x1="60.50" y1="439.92" x2="62.60" y2="439.92" stroke="#3a3a3a" stroke-width="1.0" />
<line x1="329.40" y1="519.00" x2="325.60" y2="519.00" stroke="#3a3a3a" stroke-width="1.0" />
<line x1="329.40" y1="463.70" x2="325.60" y2="463.70" stroke="#3a3a3a" stroke-width="1.0" />
<line x1="329.40" y1="408.40" x2="325.60" y2="408.40" stroke="#3a3a3a" stroke-width="1.0" />
<line x1="329.40" y1="546.65" x2="327.30" y2="546.65" stroke="#3a3a3a" stroke-width="1.0" />
<line x1="329.40" y1="491.35" x2="327.30" y2="491.35" stroke="#3a3a3a" stroke-width="1.0" />
<line x1="329.40" y1="436.05" x2="327.30" y2="436.05" stroke="#3a3a3a" stroke-width="1.0" />
<line x1="67.09" y1="395.17" x2="100.81" y2="413.43" stroke="#6a6ac8" stroke-width="0.8" />
<line x1="113.47" y1="421.41" x2="147.83" y2="446.39" stroke="#6a6ac8" stroke-width="0.8" />
<line x1="160.26" y1="454.78" x2="173.24" y2="462.92" stroke="#6a6ac8" stroke-width="0.8" />
<line x1="186.13" y1="470.59" x2="203.87" y2="480.61" stroke="#6a6ac8" stroke-width="0.8" />
<line x1="66.13" y1="396.03" x2="100.87" y2="420.57" stroke="#555" stroke-width="0.7" />
<line x1="113.81" y1="428.04" x2="123.59" y2="432.56" stroke="#555" stroke-width="0.7" />
<line x1="136.91" y1="439.43" x2="173.09" y2="460.17" stroke="#555" stroke-width="0.7" />
<line x1="186.22" y1="467.42" x2="203.78" y2="476.78" stroke="#555" stroke-width="0.7" />
<circle cx="60.5" cy="391.6" r="4.85" fill="#ffff80" stroke="#00008b" stroke-width="1.9"/>
<circle cx="107.4" cy="417.0" r="4.85" fill="#ffff80" stroke="#00008b" stroke-width="1.9"/>
<circle cx="153.9" cy="450.8" r="4.85" fill="#ffff80" stroke="#00008b" stroke-width="1.9"/>
<circle cx="179.6" cy="466.9" r="4.85" fill="#ffff80" stroke="#00008b" stroke-width="1.9"/>
<circle cx="210.4" cy="484.3" r="4.85" fill="#ffff80" stroke="#00008b" stroke-width="1.9"/>
<circle cx="60.0" cy="391.7" r="5.8" fill="url(#gOr)"/>
<circle cx="107.0" cy="424.9" r="5.8" fill="url(#gOr)"/>
<circle cx="130.4" cy="435.7" r="5.8" fill="url(#gOr)"/>
<circle cx="179.6" cy="463.9" r="5.8" fill="url(#gOr)"/>
<circle cx="210.4" cy="480.3" r="5.8" fill="url(#gOr)"/>
<line x1="82.00" y1="514.50" x2="117.00" y2="514.50" stroke="#b0b0ff" stroke-width="0.8" />
<polygon points="76.6,514.5 85.1,511.9 85.1,517.1" fill="#0000ff"/>
<line x1="133.50" y1="515.60" x2="166.00" y2="515.60" stroke="#bcbcee" stroke-width="0.8" />
<circle cx="149.9" cy="515.5" r="4.85" fill="#ffff80" stroke="#00008b" stroke-width="1.9"/>
<text x="170.5" y="520" font-size="14.5"><tspan font-style="italic">T</tspan><tspan font-size="10.5" dy="3.5">c</tspan></text>
<line x1="213.40" y1="515.40" x2="248.60" y2="515.40" stroke="#555" stroke-width="0.5" />
<circle cx="230.5" cy="515.4" r="5.8" fill="url(#gOr)"/>
<text x="254.5" y="520" font-size="14.5"><tspan font-style="italic">T</tspan><tspan font-size="10.5" dy="3.5">sm</tspan></text>
<line x1="286.20" y1="514.50" x2="306.00" y2="514.50" stroke="#b0b0ff" stroke-width="0.8" />
<polygon points="313.1,514.5 304.6,517.1 304.6,511.9" fill="#0000ff"/>
<text x="55.50" y="579.70" font-size="17.0" text-anchor="end" fill="#000" >0</text>
<text x="55.50" y="525.95" font-size="17.0" text-anchor="end" fill="#000" >5</text>
<text x="55.50" y="472.20" font-size="17.0" text-anchor="end" fill="#000" >10</text>
<text x="55.50" y="418.45" font-size="17.0" text-anchor="end" fill="#000" >15</text>
<text x="333.90" y="579.70" font-size="16.1" text-anchor="start" fill="#000" >85</text>
<text x="333.90" y="524.40" font-size="16.1" text-anchor="start" fill="#000" >90</text>
<text x="333.90" y="469.10" font-size="16.1" text-anchor="start" fill="#000" >95</text>
<text x="333.90" y="413.80" font-size="16.1" text-anchor="start" fill="#000" >100</text>
<text x="60.50" y="592.30" font-size="17.0" text-anchor="middle" fill="#000" >0</text>
<text x="150.50" y="592.30" font-size="17.0" text-anchor="middle" fill="#000" >50</text>
<text x="240.50" y="592.30" font-size="17.0" text-anchor="middle" fill="#000" >100</text>
<text transform="translate(28.7,464.5) rotate(-90)" font-size="22" text-anchor="middle"><tspan font-style="italic">T</tspan><tspan font-size="15.5" dy="5">c</tspan><tspan dy="-5"> (K)</tspan></text>
<text transform="translate(306.2,436.8) rotate(-90)" font-size="22.6" text-anchor="middle"><tspan font-style="italic">T</tspan><tspan font-size="16" dy="5.5">sm</tspan><tspan dy="-5.5"> (K)</tspan></text>
<text x="197" y="616.4" font-size="19" text-anchor="middle"><tspan class="gk">Δρ</tspan><tspan font-size="13.5" dy="4.5">0</tspan><tspan dy="-4.5"> (</tspan><tspan class="gk">µΩ</tspan> cm)</text>
<text x="295.0" y="557.0" font-size="18.4" letter-spacing="3.5">(d)</text>
</g>
<g id="panel-e">
<line x1="415.40" y1="386.40" x2="685.10" y2="386.40" stroke="#484848" stroke-width="1.2" />
<line x1="684.50" y1="386.40" x2="684.50" y2="574.30" stroke="#484848" stroke-width="1.2" />
<line x1="415.40" y1="574.30" x2="685.10" y2="574.30" stroke="#484848" stroke-width="1.2" />
<line x1="416.00" y1="386.40" x2="416.00" y2="574.30" stroke="#505050" stroke-width="1.1" />
<line x1="475.70" y1="574.30" x2="475.70" y2="570.70" stroke="#555555" stroke-width="1.0" />
<line x1="475.70" y1="386.40" x2="475.70" y2="390.00" stroke="#555555" stroke-width="1.0" />
<line x1="535.30" y1="574.30" x2="535.30" y2="570.70" stroke="#555555" stroke-width="1.0" />
<line x1="535.30" y1="386.40" x2="535.30" y2="390.00" stroke="#555555" stroke-width="1.0" />
<line x1="594.90" y1="574.30" x2="594.90" y2="570.70" stroke="#555555" stroke-width="1.0" />
<line x1="594.90" y1="386.40" x2="594.90" y2="390.00" stroke="#555555" stroke-width="1.0" />
<line x1="654.50" y1="574.30" x2="654.50" y2="570.70" stroke="#555555" stroke-width="1.0" />
<line x1="654.50" y1="386.40" x2="654.50" y2="390.00" stroke="#555555" stroke-width="1.0" />
<line x1="445.90" y1="574.30" x2="445.90" y2="572.30" stroke="#555555" stroke-width="1.0" />
<line x1="445.90" y1="386.40" x2="445.90" y2="388.40" stroke="#555555" stroke-width="1.0" />
<line x1="505.50" y1="574.30" x2="505.50" y2="572.30" stroke="#555555" stroke-width="1.0" />
<line x1="505.50" y1="386.40" x2="505.50" y2="388.40" stroke="#555555" stroke-width="1.0" />
<line x1="565.10" y1="574.30" x2="565.10" y2="572.30" stroke="#555555" stroke-width="1.0" />
<line x1="565.10" y1="386.40" x2="565.10" y2="388.40" stroke="#555555" stroke-width="1.0" />
<line x1="624.70" y1="574.30" x2="624.70" y2="572.30" stroke="#555555" stroke-width="1.0" />
<line x1="624.70" y1="386.40" x2="624.70" y2="388.40" stroke="#555555" stroke-width="1.0" />
<line x1="416.00" y1="532.50" x2="419.60" y2="532.50" stroke="#555555" stroke-width="1.0" />
<line x1="684.50" y1="532.50" x2="680.90" y2="532.50" stroke="#555555" stroke-width="1.0" />
<line x1="416.00" y1="490.70" x2="419.60" y2="490.70" stroke="#555555" stroke-width="1.0" />
<line x1="684.50" y1="490.70" x2="680.90" y2="490.70" stroke="#555555" stroke-width="1.0" />
<line x1="416.00" y1="448.90" x2="419.60" y2="448.90" stroke="#555555" stroke-width="1.0" />
<line x1="684.50" y1="448.90" x2="680.90" y2="448.90" stroke="#555555" stroke-width="1.0" />
<line x1="416.00" y1="407.10" x2="419.60" y2="407.10" stroke="#555555" stroke-width="1.0" />
<line x1="684.50" y1="407.10" x2="680.90" y2="407.10" stroke="#555555" stroke-width="1.0" />
<line x1="416.00" y1="553.40" x2="418.00" y2="553.40" stroke="#555555" stroke-width="1.0" />
<line x1="684.50" y1="553.40" x2="682.50" y2="553.40" stroke="#555555" stroke-width="1.0" />
<line x1="416.00" y1="511.60" x2="418.00" y2="511.60" stroke="#555555" stroke-width="1.0" />
<line x1="684.50" y1="511.60" x2="682.50" y2="511.60" stroke="#555555" stroke-width="1.0" />
<line x1="416.00" y1="469.80" x2="418.00" y2="469.80" stroke="#555555" stroke-width="1.0" />
<line x1="684.50" y1="469.80" x2="682.50" y2="469.80" stroke="#555555" stroke-width="1.0" />
<line x1="416.00" y1="428.00" x2="418.00" y2="428.00" stroke="#555555" stroke-width="1.0" />
<line x1="684.50" y1="428.00" x2="682.50" y2="428.00" stroke="#555555" stroke-width="1.0" />
<circle cx="416.1" cy="574.3" r="6.2" fill="url(#gBl)"/>
<circle cx="505.5" cy="524.3" r="6.2" fill="url(#gBl)"/>
<circle cx="535.4" cy="488.6" r="6.2" fill="url(#gBl)"/>
<circle cx="609.9" cy="427.8" r="6.2" fill="url(#gBl)"/>
<circle cx="654.8" cy="393.9" r="6.2" fill="url(#gBl)"/>
<line x1="416.10" y1="574.30" x2="684.50" y2="386.30" stroke="#ff3030" stroke-width="1.1" stroke-dasharray="4.4 3.5"/>
<text x="411.90" y="578.90" font-size="16.5" text-anchor="end" fill="#000" >0</text>
<text x="416.10" y="591.80" font-size="16.5" text-anchor="middle" fill="#000" >0</text>
<text x="411.90" y="537.10" font-size="16.5" text-anchor="end" fill="#000" >2</text>
<text x="475.70" y="591.80" font-size="16.5" text-anchor="middle" fill="#000" >2</text>
<text x="411.90" y="495.30" font-size="16.5" text-anchor="end" fill="#000" >4</text>
<text x="535.30" y="591.80" font-size="16.5" text-anchor="middle" fill="#000" >4</text>
<text x="411.90" y="453.50" font-size="16.5" text-anchor="end" fill="#000" >6</text>
<text x="594.90" y="591.80" font-size="16.5" text-anchor="middle" fill="#000" >6</text>
<text x="411.90" y="411.70" font-size="16.5" text-anchor="end" fill="#000" >8</text>
<text x="654.50" y="591.80" font-size="16.5" text-anchor="middle" fill="#000" >8</text>
<text transform="translate(388.5,476.3) rotate(-90)" font-size="22.6" letter-spacing="0.4" text-anchor="middle"><tspan class="gk">Δ</tspan><tspan font-style="italic">T</tspan><tspan font-size="15.5" dy="5">c</tspan><tspan dy="-5"> (K)</tspan></text>
<text x="550" y="614.5" font-size="19" text-anchor="middle"><tspan class="gk">Δ</tspan><tspan font-style="italic">T</tspan><tspan font-size="13.5" dy="4.5">sm</tspan><tspan dy="-4.5"> (K)</tspan></text>
<text transform="translate(441.5,540.5) rotate(-36)" font-size="15.3"><tspan class="gk">Δ</tspan><tspan font-style="italic">T</tspan><tspan font-size="10.8" dy="3.5">c</tspan><tspan dy="-3.5"> = </tspan><tspan class="gk">Δ</tspan><tspan font-style="italic">T</tspan><tspan font-size="10.8" dy="3.5">sm</tspan></text>
<text x="649.5" y="557.7" font-size="18.4" letter-spacing="3.5">(e)</text>
</g>
</svg>
</body>
</html>
